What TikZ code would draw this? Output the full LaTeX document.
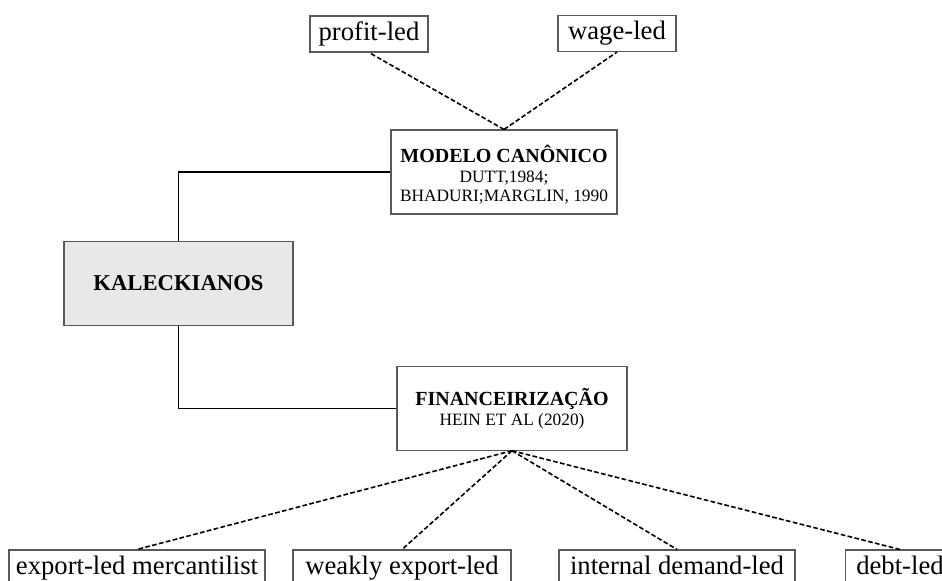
\documentclass[tikz,border=0pt]{standalone}
\usepackage{fontspec}
\setmainfont{Liberation Serif}

\begin{document}
\begin{tikzpicture}[x=0.75pt,y=0.75pt,yscale=-1,xscale=1,
  leafbox/.style={draw=black!65, line width=0.8pt, inner sep=0pt, minimum height=27pt, text height=14.4pt, text depth=5pt, font=\fontsize{20}{22}\selectfont},
  groupbox/.style={draw=black!65, line width=0.8pt, inner sep=0pt, align=center, minimum height=62.5pt},
  dashlink/.style={draw=black, line width=1.2pt, dash pattern=on 3.5pt off 1.8pt},
  solidlink/.style={draw=black, line width=1.1pt}]
%set diagram to 942 x 581
\useasboundingbox (0,0) rectangle (942,581);

%Shape: Rectangle (root)
\node [groupbox, fill=black!9, minimum width=171.75pt, font=\bfseries\fontsize{17}{19}\selectfont] (kalec) at (178.5,283.5) {KALECKIANOS};

%Shape: Rectangle (two branches)
\node [groupbox, minimum width=169.5pt, minimum height=63pt, font=\fontsize{13}{13.5}\selectfont] (modelo) at (504,172) {\rule{0pt}{17pt}{\bfseries\fontsize{15}{13.5}\selectfont MODELO CANÔNICO}\\[1.5pt]
  DUTT,1984;\\
  BHADURI;MARGLIN, 1990};
\node [groupbox, minimum width=172.5pt, font=\fontsize{13}{13.5}\selectfont] (fin) at (512,408.5) {{\bfseries\fontsize{15}{13.5}\selectfont FINANCEIRIZAÇÃO}\\[1.5pt]
  HEIN ET AL (2020)};

%Shape: Rectangle (upper leaves)
\node [leafbox, minimum width=88.5pt] (profit) at (369,34) {profit-led};
\node [leafbox, minimum width=88.5pt] (wage) at (617,33.5) {wage-led};

%Shape: Rectangle (lower leaves)
\node [leafbox, minimum width=192pt, minimum height=27.75pt] (mercant) at (137,568.5) {export-led mercantilist};
\node [leafbox, minimum width=163.5pt, minimum height=27.75pt] (weakly) at (402,568.5) {weakly export-led};
\node [leafbox, minimum width=177pt, minimum height=27.75pt] (internal) at (677,568.5) {internal demand-led};
\node [leafbox, minimum width=82pt, minimum height=27.75pt] (debt) at (900,568.5) {debt-led};

%Straight Lines (root to branches)
\draw [solidlink] (kalec.north) |- (modelo.west);
\draw [solidlink] (kalec.south) |- (fin.west);

%Dashed Lines
\draw [dashlink] (modelo.north) -- (profit.south);
\draw [dashlink] (modelo.north) -- (wage.south);
\foreach \leaf in {mercant,weakly,internal,debt}
  \draw [dashlink] (fin.south) -- (\leaf.north);

\end{tikzpicture}
\end{document}
